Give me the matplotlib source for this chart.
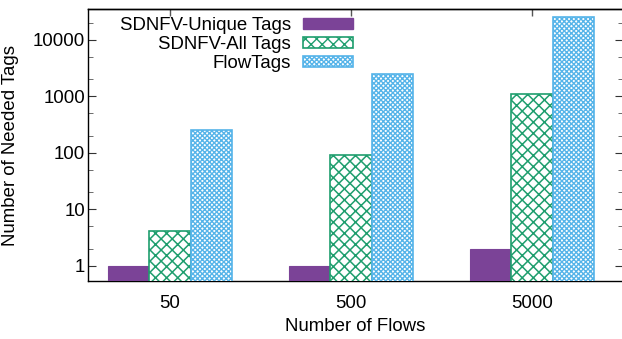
import numpy as np
import matplotlib.pyplot as plt
from matplotlib.patches import Patch
from matplotlib.ticker import LogLocator, NullFormatter

plt.rcParams['font.family'] = ['Liberation Sans', 'DejaVu Sans']

flows = ["50", "500", "5000"]
unique_tags = [1, 1, 2]
all_tags = [4.2, 90, 1100]
flow_tags = [250, 2500, 25000]

purple = "#7b4397"
green = "#1f9e6e"
blue = "#56b4e9"

fig = plt.figure(figsize=(6.22, 3.39), dpi=100)
ax = fig.add_axes([88 / 622, 1 - 281 / 339, 535 / 622, 272 / 339])

x = np.arange(len(flows))
w = 0.229

with plt.rc_context({'hatch.linewidth': 1.1}):
    ax.bar(x - w, unique_tags, w, color=purple, edgecolor=purple, linewidth=0.8, zorder=3)
    ax.bar(x, all_tags, w, facecolor="white", edgecolor=green, hatch="xxx", linewidth=1.2, zorder=3)
    leg_green = Patch(facecolor="white", edgecolor=green, hatch="xxx", linewidth=1.2, label="SDNFV-All Tags")
with plt.rc_context({'hatch.linewidth': 1.0}):
    ax.bar(x + w, flow_tags, w, facecolor="white", edgecolor=blue, hatch="xxxxxxx", linewidth=1.2, zorder=3)
    leg_blue = Patch(facecolor="white", edgecolor=blue, hatch="xxxxxxx", linewidth=1.2, label="FlowTags")

ax.set_yscale("log")
ax.set_ylim(0.54, 35000)
ax.set_xlim(-0.453, 2.503)

ax.set_yticks([1, 10, 100, 1000, 10000])
ax.set_yticklabels(["1", "10", "100", "1000", "10000"])
ax.yaxis.set_minor_locator(LogLocator(base=10, subs=[2, 5]))
ax.yaxis.set_minor_formatter(NullFormatter())
ax.tick_params(axis="y", which="major", direction="in", length=6, width=0.8,
               right=True, labelsize=13.4, pad=2, color="#333333")
ax.tick_params(axis="y", which="minor", direction="in", length=3.5, width=0.6,
               right=True, color="#555555")

ax.set_xticks(x)
ax.set_xticklabels(flows)
ax.tick_params(axis="x", which="major", direction="in", length=0, top=False,
               labelsize=13.4, pad=10)
top = ax.secondary_xaxis("top")
top.set_xticks(x, labels=[])
top.tick_params(direction="in", length=5, width=1.0, color="#555555")
for s in ax.spines.values():
    s.set_linewidth(1.0)
top.spines["top"].set_linewidth(1.0)

ax.set_ylabel("Number of Needed Tags", fontsize=13.4)
ax.yaxis.set_label_coords(-0.129, 0.5)
ax.set_xlabel("Number of Flows", fontsize=13.4)
ax.xaxis.set_label_coords(0.5, -0.135)

handles = [
    Patch(facecolor=purple, edgecolor=purple, label="SDNFV-Unique Tags"),
    leg_green,
    leg_blue,
]
ax.legend(handles=handles, loc="upper right", bbox_to_anchor=((353 - 88) / 535, (281 - 17) / 272),
          frameon=False, markerfirst=False, fontsize=13.4, handlelength=2.7,
          handleheight=0.54, handletextpad=0.65, labelspacing=0.12,
          borderpad=0, borderaxespad=0)

fig.savefig("out.png", dpi=100)
